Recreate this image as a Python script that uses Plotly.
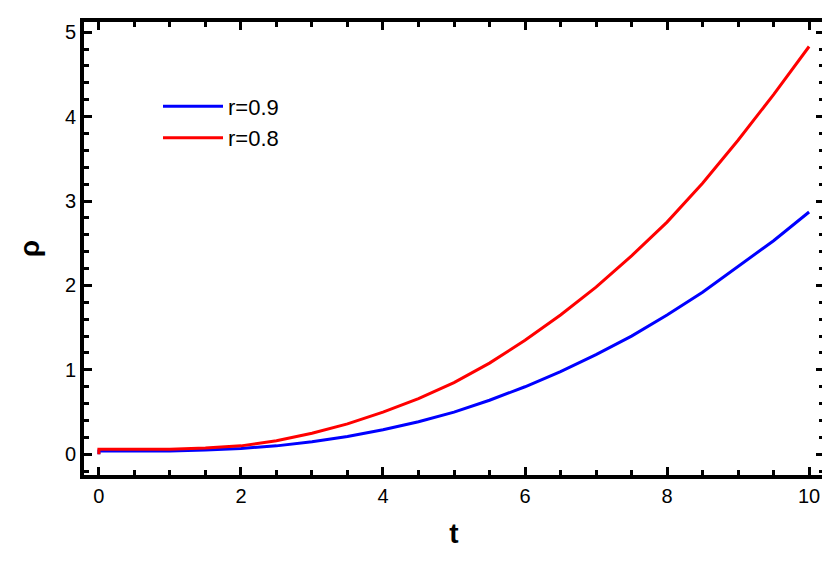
import plotly.graph_objects as go

t = [0, 0, 0.5, 1, 1.5, 2, 2.5, 3, 3.5, 4, 4.5, 5, 5.5, 6, 6.5, 7, 7.5, 8, 8.5, 9, 9.5, 10]
rho_09 = [0.0, 0.04, 0.04, 0.04, 0.05, 0.07, 0.1, 0.15, 0.21, 0.29, 0.385, 0.5, 0.64, 0.8, 0.98, 1.18, 1.4, 1.65, 1.92, 2.22, 2.53, 2.87]
rho_08 = [0.0, 0.06, 0.06, 0.06, 0.075, 0.1, 0.16, 0.25, 0.36, 0.5, 0.66, 0.85, 1.08, 1.35, 1.65, 1.98, 2.35, 2.75, 3.21, 3.72, 4.26, 4.83]

fig = go.Figure()
fig.add_trace(go.Scatter(x=t, y=rho_09, mode="lines", name="r=0.9",
                         line=dict(color="#0000ff", width=3)))
fig.add_trace(go.Scatter(x=t, y=rho_08, mode="lines", name="r=0.8",
                         line=dict(color="#ff0000", width=3)))

ax = dict(showline=True, linewidth=4, linecolor="black", mirror="allticks",
          ticks="inside", tickwidth=3, ticklen=8, tickcolor="black",
          showgrid=False, zeroline=False,
          tickfont=dict(family="Liberation Sans", size=20, color="black"),
          minor=dict(ticks="inside", ticklen=5, tickwidth=3, tickcolor="black", nticks=5))
fig.update_xaxes(**ax, range=[-0.21, 10.21], dtick=2,
                 title=dict(text="<b>t</b>", font=dict(family="Liberation Sans", size=28, color="black"), standoff=18))
fig.update_yaxes(**ax, range=[-0.245, 5.12], dtick=1,
                 title=dict(text="<b>ρ</b>", font=dict(family="Liberation Sans", size=28, color="black"), standoff=18))
fig.update_layout(width=830, height=565, plot_bgcolor="white", paper_bgcolor="white",
                  margin=dict(l=76, r=12, t=10, b=98),
                  legend=dict(x=0.1, y=0.86, xanchor="left", yanchor="top",
                              bgcolor="rgba(0,0,0,0)",
                              font=dict(family="Liberation Sans", size=22, color="black"),
                              tracegroupgap=14, itemwidth=60))
fig.write_html("out.html")
